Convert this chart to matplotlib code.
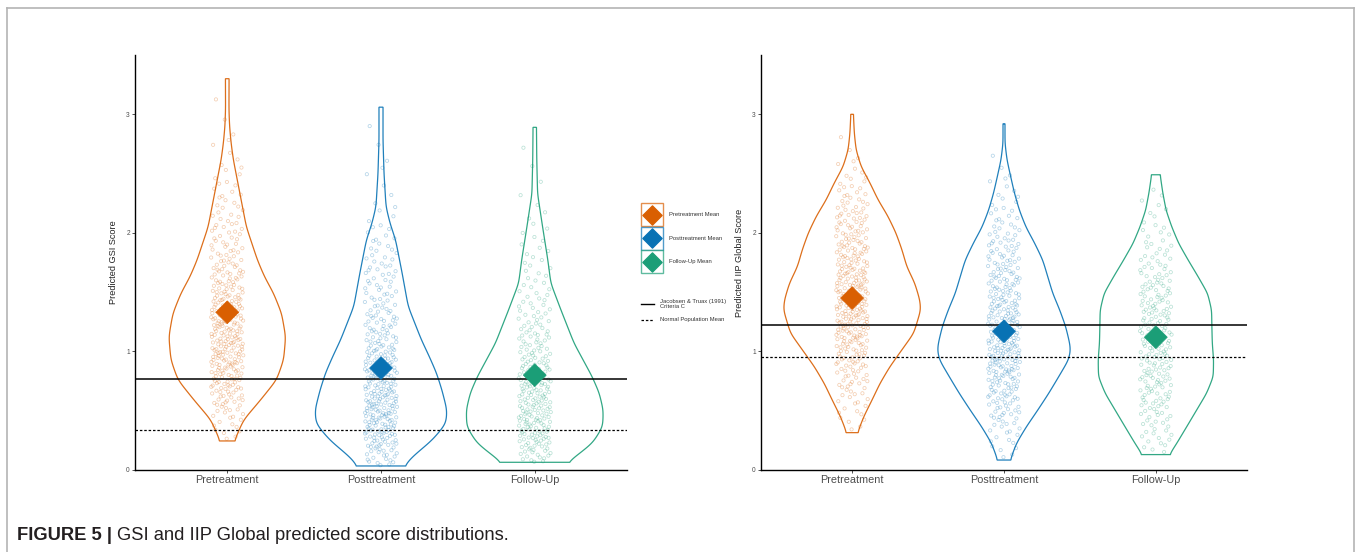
import numpy as np
import matplotlib.pyplot as plt
from matplotlib.lines import Line2D
from matplotlib.patches import Rectangle

# Grupos e cores
grupos = ['Pretreatment', 'Posttreatment', 'Follow-Up']
cores = ['#D95F02', '#0872B4', '#1B9E77']
legenda_medias = ['Pretreatment Mean', 'Posttreatment Mean', 'Follow-Up Mean']

# Perfis de densidade (nível do escore, densidade relativa) de cada violino - GSI
gsi_pre_y = [0.245, 0.34, 0.42, 0.59, 0.76, 0.93, 1.125, 1.32, 1.49, 1.63, 1.77, 2.05,
             2.335, 2.62, 2.76, 2.90, 3.04, 3.30]
gsi_pre_d = [0.07, 0.12, 0.16, 0.33, 0.49, 0.56, 0.58, 0.54, 0.46, 0.37, 0.30, 0.19,
             0.125, 0.06, 0.038, 0.023, 0.017, 0.018]
gsi_post_y = [0.034, 0.11, 0.253, 0.39, 0.506, 0.675, 0.82, 0.956, 1.10, 1.38, 1.66,
              1.94, 2.08, 2.22, 2.50, 2.78, 3.06]
gsi_post_d = [0.23, 0.31, 0.51, 0.645, 0.655, 0.605, 0.55, 0.48, 0.40, 0.27, 0.21,
              0.145, 0.09, 0.05, 0.03, 0.02, 0.02]
gsi_fu_y = [0.065, 0.11, 0.228, 0.365, 0.506, 0.65, 0.787, 1.07, 1.35, 1.575, 1.77,
            2.05, 2.33, 2.62, 2.89]
gsi_fu_d = [0.325, 0.40, 0.575, 0.675, 0.68, 0.64, 0.57, 0.39, 0.26, 0.16, 0.13,
            0.078, 0.028, 0.02, 0.017]

# Perfis de densidade - IIP Global
iip_pre_y = [0.315, 0.45, 0.59, 0.73, 0.872, 1.013, 1.154, 1.35, 1.435, 1.575, 1.715,
             1.86, 2.0, 2.14, 2.28, 2.42, 2.56, 2.70, 2.84, 3.0]
iip_pre_d = [0.055, 0.117, 0.20, 0.28, 0.38, 0.50, 0.62, 0.69, 0.68, 0.63, 0.55,
             0.50, 0.44, 0.36, 0.26, 0.18, 0.09, 0.04, 0.022, 0.013]
iip_post_y = [0.084, 0.225, 0.365, 0.506, 0.647, 0.787, 0.93, 1.013, 1.07, 1.21, 1.35,
              1.49, 1.63, 1.77, 1.91, 2.05, 2.19, 2.335, 2.475, 2.616, 2.757, 2.92]
iip_post_d = [0.063, 0.125, 0.225, 0.34, 0.45, 0.55, 0.65, 0.67, 0.66, 0.62, 0.56,
              0.49, 0.44, 0.39, 0.31, 0.22, 0.155, 0.105, 0.067, 0.03, 0.01, 0.01]
iip_fu_y = [0.13, 0.225, 0.365, 0.506, 0.647, 0.787, 0.93, 1.07, 1.21, 1.35, 1.49,
            1.63, 1.77, 1.91, 2.05, 2.19, 2.335, 2.49]
iip_fu_d = [0.137, 0.21, 0.31, 0.41, 0.51, 0.577, 0.58, 0.567, 0.563, 0.56, 0.52,
            0.425, 0.325, 0.23, 0.16, 0.103, 0.07, 0.043]

# Médias previstas e linhas de referência
gsi_medias = [1.33, 0.86, 0.80]
iip_medias = [1.45, 1.17, 1.12]
gsi_criterio_c, gsi_media_normal = 0.77, 0.34
iip_criterio_c, iip_media_normal = 1.22, 0.95

# Número de observações por grupo
gsi_n = [330, 330, 260]
iip_n = [330, 330, 230]

W, H = 1357, 552
escala_violino = 0.655
plt.rcParams['font.family'] = ['Liberation Sans', 'DejaVu Sans']


def halton(i, base):
    f, r = 1.0, 0.0
    while i > 0:
        f /= base
        r += f * (i % base)
        i //= base
    return r


def perfil(ys, ds):
    grade = np.linspace(ys[0], ys[-1], 400)
    dens = np.interp(grade, ys, ds)
    k = np.exp(-0.5 * (np.arange(-12, 13) / 5.0) ** 2)
    k /= k.sum()
    suave = np.convolve(np.pad(dens, 12, mode='edge'), k, mode='valid')
    return grade, suave


def desenha_violino(ax, pos, ys, ds, cor, n):
    grade, dens = perfil(ys, ds)
    meia = dens * escala_violino
    xs = np.concatenate([pos + meia, (pos - meia)[::-1]])
    yy = np.concatenate([grade, grade[::-1]])
    ax.fill(xs, yy, facecolor='none', edgecolor=cor, lw=0.9, alpha=0.9, zorder=2)
    # pontos: quantis da distribuição com deslocamento horizontal (jitter)
    acum = np.cumsum(dens)
    acum = (acum - acum[0]) / (acum[-1] - acum[0])
    p = np.array([halton(i + 1, 2) for i in range(n)])
    jit = np.array([halton(i + 1, 3) for i in range(n)])
    py = np.interp(p, acum, grade)
    px = pos + (jit - 0.5) * 0.21
    ax.scatter(px, py, s=5.5, facecolors='none', edgecolors=cor, linewidths=0.55,
               alpha=0.3, zorder=3)


def painel(ax, perfis, medias, ns, criterio, normal, rotulo):
    for i, (ys, ds) in enumerate(perfis):
        desenha_violino(ax, i + 1, ys, ds, cores[i], ns[i])
    ax.axhline(criterio, color='black', lw=1.1, zorder=4)
    ax.axhline(normal, color='black', lw=0.9, ls=(0, (2, 1.5)), zorder=4)
    ax.scatter(range(1, 4), medias, marker='D', s=135, c=cores, edgecolors=cores,
               linewidths=0.5, zorder=5)
    ax.set_xlim(0.4, 3.6)
    ax.set_ylim(0, 3.5)
    ax.set_xticks([1, 2, 3])
    ax.set_xticklabels(grupos, fontsize=7.8, color='#4d4d4d')
    ax.set_yticks([0, 1, 2, 3])
    ax.set_yticklabels(['0', '1', '2', '3'], fontsize=4.8, color='#4d4d4d')
    ax.tick_params(axis='both', length=2.2, width=0.6, color='#333333', pad=1.5)
    ax.set_ylabel(rotulo, fontsize=6.6, color='#222222', labelpad=6)
    for lado in ['top', 'right']:
        ax.spines[lado].set_visible(False)
    for lado in ['left', 'bottom']:
        ax.spines[lado].set_linewidth(1.0)


def eixos_px(x0, y0, x1, y1):
    return fig.add_axes([x0 / W, 1 - y1 / H, (x1 - x0) / W, (y1 - y0) / H])


fig = plt.figure(figsize=(W / 100, H / 100), dpi=100)

ax1 = eixos_px(135, 55, 627, 470)
painel(ax1, [(gsi_pre_y, gsi_pre_d), (gsi_post_y, gsi_post_d), (gsi_fu_y, gsi_fu_d)],
       gsi_medias, gsi_n, gsi_criterio_c, gsi_media_normal, 'Predicted GSI Score')

ax2 = eixos_px(761, 55, 1247, 470)
painel(ax2, [(iip_pre_y, iip_pre_d), (iip_post_y, iip_post_d), (iip_fu_y, iip_fu_d)],
       iip_medias, iip_n, iip_criterio_c, iip_media_normal, 'Predicted IIP Global Score')

# Legenda desenhada à mão entre os painéis
leg = eixos_px(636, 195, 746, 330)
leg.set_xlim(636, 746)
leg.set_ylim(330, 195)
leg.axis('off')
for i, (cor, txt) in enumerate(zip(cores, legenda_medias)):
    y0 = 203 + i * 23.5
    leg.add_patch(Rectangle((641, y0), 22, 23, facecolor='white', edgecolor=cor,
                            lw=1.0, alpha=0.7))
    leg.scatter([652], [y0 + 11.5], marker='D', s=95, color=cor, zorder=3)
    leg.text(669, y0 + 11.5, txt, fontsize=4.2, va='center', color='#333333')
leg.plot([641, 654], [304, 304], color='black', lw=1.0)
leg.text(660, 304, 'Jacobsen & Truax (1991)\nCriteria C', fontsize=4.2, va='center',
         color='#333333', linespacing=0.95)
leg.plot([641, 654], [320, 320], color='black', lw=0.9, ls=(0, (2, 1.5)))
leg.text(660, 320, 'Normal Population Mean', fontsize=4.2, va='center', color='#333333')

# Moldura e legenda da figura
cinza = '#b4b4b4'
fig.add_artist(Line2D([7 / W, 1354 / W], [1 - 8 / H, 1 - 8 / H], color=cinza, lw=1.2))
fig.add_artist(Line2D([7 / W, 7 / W], [0, 1 - 8 / H], color=cinza, lw=1.2))
fig.add_artist(Line2D([1354 / W, 1354 / W], [0, 1 - 8 / H], color=cinza, lw=1.2))

t1 = fig.text(17 / W, 1 - 535 / H, 'FIGURE 5 | ', fontsize=13.2, fontweight='bold',
              va='center', color='#231f20')
fig.canvas.draw()
bb = t1.get_window_extent()
fig.text(bb.x1 / W, 1 - 535 / H, 'GSI and IIP Global predicted score distributions.',
         fontsize=13.2, va='center', color='#231f20')

fig.savefig('out.png', dpi=100)
